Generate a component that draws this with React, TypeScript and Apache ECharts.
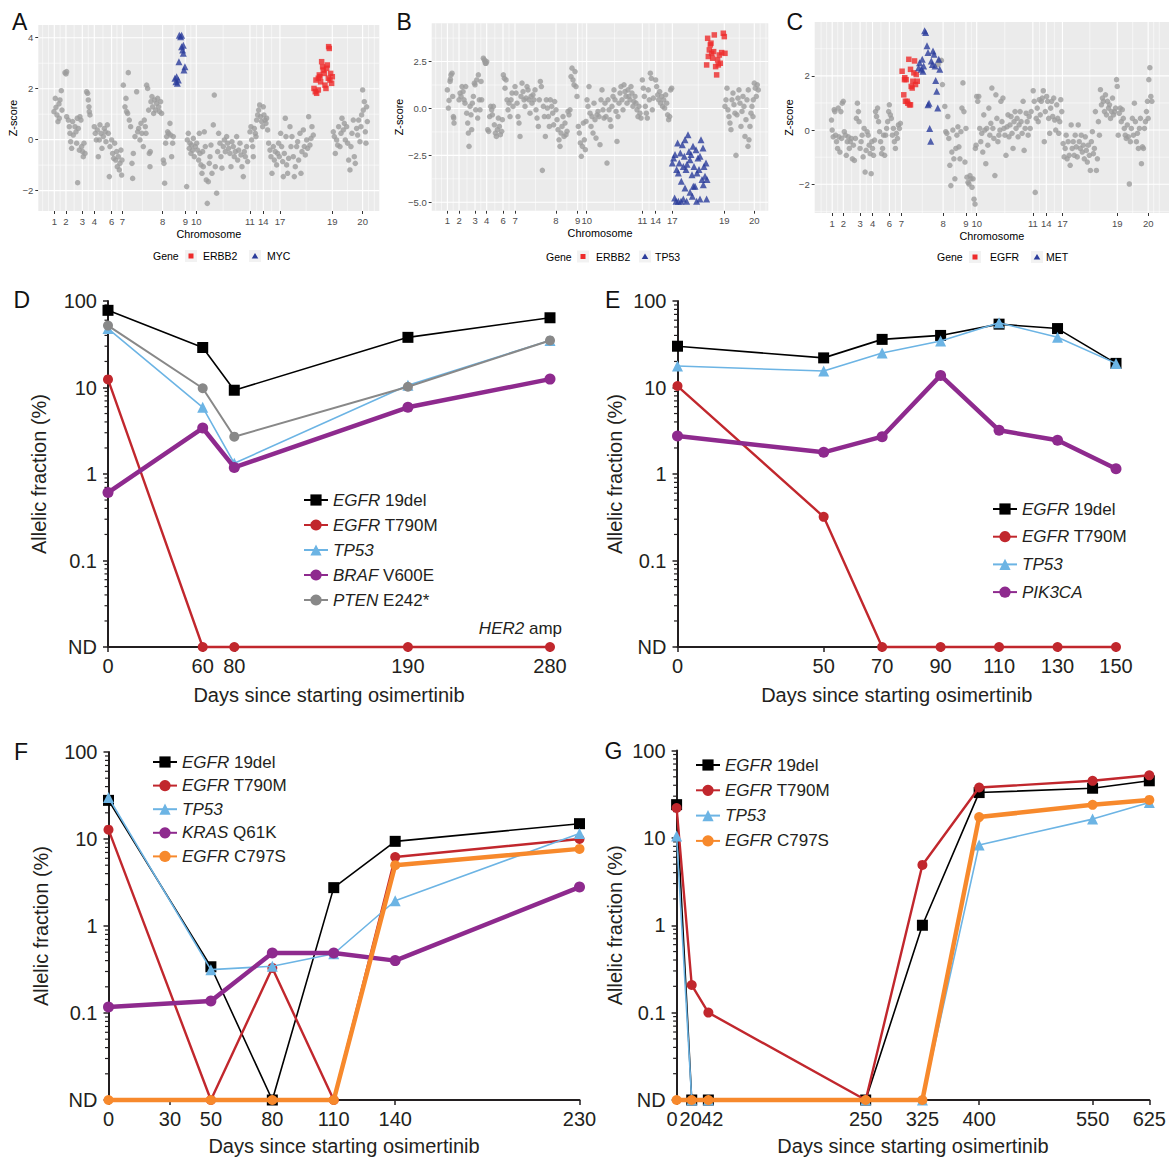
import React, { useEffect, useRef } from 'react';
import * as echarts from 'echarts';

const FONT = '"Liberation Sans", Arial, Helvetica, sans-serif';
const TXT = '#231F20';
const ND = 0.01;

// ---------- Panels A-C: copy-number Z-scores ----------
const chromLabels = ['1', '2', '3', '4', '6', '7', '8', '9', '10', '11', '14', '17', '19', '20'];
const chromPosA = [163, 198, 247, 283, 335, 367, 488, 556, 589, 750, 790, 840, 997, 1088];
const chromPosB = [187, 222, 270, 305, 354, 390, 513, 578, 605, 772, 812, 862, 1018, 1108];
const chromPosC = [170, 203, 253, 290, 340, 376, 500, 568, 600, 767, 807, 855, 1018, 1110];

const zTicksA = [-2, 0, 2, 4];
const zMinorA = [-1, 1, 3];
const zTicksB = [-5, -2.5, 0, 2.5];
const zMinorB = [-3.75, -1.25, 1.25, 3.75];
const zTicksC = [-2, 0, 2];
const zMinorC = [-3, -1, 1, 3];

const grayA = [
  [162, 1.1], [166, 1.62], [168, 1.27], [171, 0.97], [174, 0.71], [177, 1.4], [180, 1.56], [184, 1.92], [186, 1.16], [178, 0.84],
  [195, 2.63], [198, 2.58], [200, 2.67], [200, 0.9], [205, 0.77], [208, 0.51], [210, 0.25], [212, -0.08], [215, -0.34], [218, 0.71], [220, 0.18], [225, 0.51], [228, 0.31], [230, -0.14], [232, 0.84], [235, 0.44], [238, -0.41], [233, -1.69],
  [240, 0.9], [243, 0.77], [245, -0.27], [248, -0.47], [250, -0.67], [252, -0.14], [255, -0.54], [260, 1.88], [263, 1.82], [265, 1.56], [267, 1.29], [268, 1.1], [270, 0.97],
  [283, 0.51], [286, 0.25], [289, -0.01], [292, 0.38], [295, -0.67], [298, -0.01], [300, 0.58], [303, 0.25], [306, -0.34], [310, 0.12], [313, 0.44], [316, 0.31], [318, -0.08], [322, 0.58], [325, 0.25], [328, -1.45], [330, -0.27],
  [335, -0.01], [338, -0.54], [341, -0.73], [344, -0.14], [347, -0.8], [350, -0.47], [352, -1.06], [355, -0.67], [358, -1.19], [360, -0.93], [363, -0.41], [365, -1.39], [366, -0.8],
  [370, 2.14], [375, 1.29], [378, 1.62], [380, 1.1], [383, 1.03], [385, 2.63], [388, 0.77], [392, 0.51], [396, -0.93], [398, -1.52], [400, -0.54], [405, 0.12], [410, 1.88], [413, 0.31], [416, 0.44], [420, -0.01], [423, 0.64], [426, 0.25], [430, -0.27], [433, 0.77], [436, 0.51], [440, 2.14], [443, 2.01], [446, 1.16], [448, -0.54], [450, -1.06], [453, 1.49], [456, 1.69], [458, 1.29], [461, 1.03], [464, 1.56], [467, 1.16], [470, 1.42], [473, 1.62], [476, 1.29], [479, 1.1], [482, 1.49], [485, 1.03], [451, -0.47], [438, 0.25],
  [490, -0.8], [492, -0.93], [494, -1.71], [497, -0.14], [500, 0.12], [503, 0.31], [506, 0.25], [510, 0.64], [512, 0.18], [515, -0.67], [518, -0.14], [520, 0.12],
  [560, -1.84], [562, -0.01], [565, 0.25], [568, -0.34], [570, -0.14], [573, -0.54], [575, -0.21], [578, -0.41], [580, 0.05], [583, -0.67], [586, -0.27],
  [590, -0.14], [593, -0.41], [596, -0.8], [598, 0.25], [600, -0.54], [603, -0.99], [606, -1.32], [608, -0.47], [610, -1.06], [613, 0.31], [616, -0.27], [619, -1.58], [622, -2.5], [625, -1.65], [628, -0.93], [630, -0.67], [633, -0.21], [636, -1.32], [640, 0.58], [643, 1.75], [646, -1.06], [650, -2.1], [653, -0.47], [656, 0.25], [660, -0.14], [663, -0.67], [666, -1.12], [670, -0.27], [673, -0.01], [676, -0.47], [680, 0.12], [683, -0.14], [686, -0.34], [690, -0.54], [693, -1.06], [696, -0.08], [700, -0.27], [703, -0.67], [706, -0.47], [710, 0.12], [713, -0.8], [716, -0.41], [720, -0.14], [723, -0.6], [726, -1.06], [730, -1.45], [733, -0.47], [736, -0.67], [740, -0.27], [743, -0.86],
  [750, 0.31], [753, 0.51], [755, -0.01], [758, -0.27], [760, -0.67], [763, 0.44], [766, 0.25], [768, 0.12], [770, 0.77], [773, 0.97], [776, 1.16], [779, 1.36], [782, 0.9], [785, 0.71], [788, 0.51],
  [790, 1.29], [792, 0.97], [795, 0.77], [798, 0.64], [800, 0.84], [803, 0.38], [806, -0.14], [810, -0.41], [813, -0.67], [816, -1.32], [820, -0.27], [823, -0.8], [826, -0.47], [830, -0.99], [833, -0.54], [836, -0.14], [838, -0.67],
  [842, 0.25], [845, -0.27], [848, -0.86], [850, -1.45], [853, -0.54], [856, 0.84], [858, 0.12], [860, -0.99], [863, -1.32], [866, -0.73], [870, 0.51], [873, -0.27], [876, 0.12], [880, -0.67], [883, -1.45], [886, -1.06], [890, -0.27], [893, -0.08], [896, -0.8], [900, 0.25], [903, -1.32], [906, -0.47], [910, 0.38], [913, -0.27], [916, -0.6], [920, -0.01], [923, -0.34], [926, 0.9], [930, -0.21], [933, 0.05], [936, 0.51], [940, 0.18],
  [1000, 0.31], [1003, 0.12], [1006, -0.54], [1010, -0.01], [1013, -0.21], [1016, 0.51], [1020, -0.27], [1023, 0.25], [1026, 0.84], [1030, 0.38], [1033, 0.64], [1036, -0.01], [1040, 0.51], [1043, -0.14], [1046, -0.8], [1050, -1.19], [1053, -0.27], [1056, 0.25], [1060, 0.77], [1063, -0.67], [1066, -0.93], [1070, 0.44], [1073, 0.18], [1076, 0.77], [1080, -0.08], [1083, 0.51],
  [1088, 1.95], [1090, 1.16], [1093, 1.49], [1096, 0.31], [1098, -0.14], [1100, 1.29], [1102, 0.71], [1085, 0.97],
];
const mycA = [
  [525, 2.41], [528, 2.27], [532, 2.21], [530, 2.47], [538, 4.1], [542, 4.04], [545, 3.65], [548, 3.52], [550, 3.39], [537, 3.06], [555, 2.86], [552, 2.73], [535, 2.34], [545, 4.1], [550, 3.71],
];
const erbb2A = [
  [942, 2.01], [946, 1.88], [950, 1.82], [948, 2.34], [955, 2.41], [958, 2.54], [962, 2.27], [965, 3.06], [968, 2.86], [970, 2.73], [973, 2.6], [975, 2.14], [978, 2.01], [982, 2.93], [985, 2.41], [988, 3.58], [990, 2.34], [992, 2.6], [995, 2.21], [997, 2.47], [986, 3.65], [960, 2.47], [980, 2.8], [955, 1.95],
];

const grayB = [
  [187, 0.99], [190, 0.02], [192, 0.43], [195, 1.44], [198, 1.79], [201, 1.88], [203, 0.64], [205, -0.43], [207, -0.78], [196, 1.56], [206, -0.51],
  [222, 0.46], [225, 0.82], [228, 0.64], [231, 1.17], [234, 0.9], [237, 0.46], [240, 0.28], [242, 1.17], [245, -0.25], [248, -0.78], [250, -1.31], [252, -2.02], [255, 0.11], [258, -0.34], [260, -1.13], [262, 0.28], [265, 0.64], [268, 1.35],
  [270, 1.26], [272, -0.07], [275, 1.52], [278, -0.51], [280, 1.79], [283, 0.46], [285, -0.07], [288, 1.44], [290, 0.46], [295, 2.68], [298, 2.59], [300, 2.5], [303, 2.41], [305, 2.5], [301, 2.41],
  [308, -1.13], [311, -1.22], [314, -0.43], [317, 0.11], [320, -0.07], [322, -0.34], [325, 0.11], [328, -0.87], [331, -1.31], [334, -1.49], [337, -1.13], [340, -0.51], [343, -0.96], [346, -1.4], [350, -1.22], [352, -0.6],
  [355, 1.79], [358, 1.61], [360, 1.08], [363, 1.52], [366, 0.46], [369, -0.07], [372, 0.28], [375, -0.43], [378, 0.46], [381, 0.82], [384, 0.11],
  [390, 1.17], [393, 0.82], [396, 0.28], [399, -0.43], [402, -0.78], [405, -1.49], [408, 0.64], [411, 1.35], [414, 0.9], [417, 0.46], [420, 0.11], [423, 0.55], [426, 1.17], [429, 0.99], [432, 0.46], [435, -0.25], [438, 0.64], [441, 0.28], [444, 0.73], [447, 0.46], [450, 0.99], [453, -0.07], [456, -0.51], [460, -0.96], [463, 0.46], [466, 1.44], [469, 1.17], [472, -3.3], [475, 0.11], [478, -0.43], [481, -1.49], [484, 0.46], [487, 0.02], [490, -0.43], [493, -0.96], [496, 0.46], [500, 0.11], [503, -0.25], [506, -0.87], [509, 0.37],
  [513, -0.07], [516, -0.6], [519, -1.13], [522, -1.67], [525, -2.02], [528, -1.31], [531, -0.96], [534, -0.43], [537, -1.49], [540, -0.78], [543, -1.4], [546, -1.22], [549, -0.16], [552, -0.34], [555, -0.07], [558, 1.7], [561, 2.15], [564, 1.52], [567, 1.26], [570, 1.97], [573, 1.17], [576, 0.64],
  [580, -0.96], [583, -1.31], [586, -1.84], [589, -2.55], [592, -2.02], [595, -0.78], [598, -1.67], [601, -2.2], [603, -0.69],
  [606, 0.46], [609, 0.11], [612, 1.17], [615, -0.25], [618, -0.96], [621, -0.43], [624, -1.31], [627, 0.28], [630, -0.6], [633, -1.58], [636, -0.34], [639, -0.16], [642, -0.43], [645, -1.93], [648, 0.46], [651, 0.99], [654, -0.07], [657, -0.51], [660, 0.28], [663, -0.43], [666, -2.91], [669, 0.46], [672, -0.07], [675, -0.6], [678, -0.96], [681, 0.11], [684, 0.64], [687, 0.99], [690, 0.46], [693, -0.16], [696, -1.76], [699, -0.43], [702, 0.28], [705, 0.82], [708, 1.17], [711, 0.46], [714, -0.07], [717, 1.26], [720, 0.9], [723, 0.64], [726, 0.28], [729, 0.99], [732, 0.64], [735, 0.46], [738, 1.17], [741, 0.82], [744, 0.11], [747, 0.37], [750, 0.64], [753, 0.28], [756, -0.07], [759, -0.43], [762, 0.11], [765, -0.25], [768, -0.51],
  [772, 1.52], [775, 1.08], [778, 0.64], [781, 0.11], [784, -0.25], [787, -0.51], [790, 0.99], [793, 0.46], [796, 1.88], [799, 1.61], [802, -0.07], [805, 0.55],
  [812, 1.52], [815, 1.17], [818, 0.73], [821, 0.46], [824, 0.9], [827, 0.28], [830, 0.64], [833, 0.11], [836, 0.46], [839, 0.02], [842, 0.73], [845, 0.28], [848, -0.34], [851, -0.6], [854, -0.43], [857, 0.99], [860, 1.08],
  [1020, 0.11], [1023, 0.46], [1026, 1.08], [1029, -0.07], [1032, -0.43], [1035, -0.78], [1038, -1.13], [1041, 0.46], [1044, 0.82], [1047, 0.2], [1050, -0.25], [1053, -2.5], [1056, -0.34], [1059, 0.55], [1062, 0.99], [1065, 0.28], [1068, -0.96], [1071, -0.16], [1074, 0.64], [1077, 0.11], [1080, -1.49], [1083, -0.6], [1086, 0.46], [1089, -2.02], [1092, -1.67], [1095, -0.96], [1098, -0.25], [1101, 0.11], [1104, -0.43], [1090, 0.99],
  [1108, 1.35], [1111, 1.08], [1114, 0.64], [1117, 1.26], [1120, 0.99], [1105, 0.46],
];
const tp53B = [
  [862, -2.91], [866, -2.64], [870, -2.46], [875, -3.26], [878, -1.84], [880, -3.44], [883, -2.91], [886, -2.38], [889, -3.88], [892, -1.93], [895, -3.09], [898, -2.55], [900, -1.67], [903, -3.26], [906, -2.98], [909, -1.4], [912, -2.29], [915, -2.73], [918, -2.46], [921, -3.53], [924, -2.02], [927, -3.09], [930, -4.15], [933, -2.2], [936, -3.44], [939, -2.64], [942, -3.26], [945, -2.55], [948, -1.67], [951, -3.79], [954, -2.11], [957, -3.09], [960, -3.62], [963, -2.91], [966, -3.79],
  [869, -4.77], [873, -4.95], [880, -4.95], [888, -4.95], [895, -4.82], [905, -4.95], [915, -4.47], [922, -4.68], [935, -4.95], [945, -4.82], [965, -4.82], [955, -4.06], [925, -4.15], [900, -4.24],
];
const erbb2B = [
  [965, 2.32], [970, 2.77], [973, 3.12], [976, 3.39], [980, 2.94], [983, 2.68], [986, 3.03], [988, 3.92], [992, 2.23], [995, 1.79], [998, 2.59], [1000, 2.32], [1003, 2.85], [1006, 2.41], [1010, 2.98], [1015, 4.01], [1018, 3.83], [1020, 2.94], [968, 3.74], [978, 3.48],
];

const grayC = [
  [168, 0.37], [170, 0], [173, -0.25], [176, 0.75], [178, 0.68], [180, -0.19], [183, -0.43], [186, -0.68], [188, 0.81], [190, -0.25], [193, -0.81], [196, 0.68], [198, -0.31], [200, 0.99],
  [203, 1.06], [206, -0.06], [209, -0.19], [212, -0.93], [215, -0.43], [218, -0.25], [221, -0.68], [224, -0.43], [227, -0.31], [230, -1.06], [233, -0.56], [236, -1.12], [239, -0.31], [242, 0.43], [245, 0.99], [248, 0.68], [250, 0.31],
  [253, -0.68], [256, -0.43], [259, -0.19], [262, -0.99], [265, 0.06], [268, -1.55], [271, -0.75], [274, -0.06], [277, -0.19], [280, -0.56], [283, -0.87], [286, -1.61], [288, -0.43],
  [290, -0.68], [293, -0.93], [296, -0.37], [299, 0.68], [302, 0.5], [305, 0.81], [308, 0.31], [311, -0.06], [314, -0.43], [317, -0.87], [320, -0.68], [323, -0.19], [326, -0.93], [329, -0.19], [332, 0.06], [335, 0.31], [338, 0.68],
  [340, 0.93], [343, 0.56], [346, 0.43], [349, -0.19], [352, 0.06], [355, -0.43], [358, -0.68], [361, -0.12], [364, -0.31], [367, 0.19], [370, 0.06], [373, 0.25],
  [490, 2.55], [495, 2.57], [498, 1.68], [485, 2.42],
  [505, 0.87], [508, -0.06], [511, -0.12], [514, 0.5], [517, -0.31], [520, -1.3], [523, -2.05], [526, -0.81], [529, 0], [532, -1.06], [535, -1.8], [538, -0.68], [541, -0.19], [544, 0.12], [547, -0.62], [550, -1.06], [553, -0.06], [556, 0.81], [559, 1.74], [562, 0.68], [565, -1.18],
  [568, 0.06], [571, -1.74], [574, -1.93], [577, -1.99], [580, -1.68], [583, -1.8], [586, -2.11], [589, -1.8], [592, -2.55], [595, -2.73], [598, -0.56], [596, -0.68],
  [600, 1.24], [603, 1.06], [606, 1.24], [609, 0.06], [612, -0.43], [615, -0.12], [618, -0.81], [621, 0.56], [624, 0], [627, -1.24], [630, 0.06], [633, -0.56], [636, 0.81], [639, -0.19], [642, 0.25], [645, 1.55], [648, 0.06], [651, -0.31], [654, -1.68], [657, 1.3], [660, 0.43], [663, -0.43], [666, -0.19], [669, 0], [672, 1.06], [675, 0.31], [678, 1.18], [681, 0.06], [684, -0.19], [687, -0.93], [690, 0.12], [693, 0.56], [696, -0.25], [699, 0.19], [702, 0.5], [705, -0.12], [708, -0.68], [711, 0.31], [714, 0.68], [717, 0.06], [720, 0.43], [723, -0.25], [726, 0.19], [729, 0.68], [732, 0.31], [735, -0.12], [738, 1.06], [741, -0.75], [744, 0.06], [747, 0.62], [750, 0.31], [753, -0.19], [756, 0.5], [759, 0.06], [762, 0.68],
  [768, 1.45], [771, 1.06], [774, -2.3], [777, 0.43], [780, 0.81], [783, 0.31], [786, 1.12], [789, 0.56], [792, 1.06], [795, 1.18], [798, 1.45], [801, -0.43], [804, 0.68],
  [808, 1.24], [811, 1.06], [814, 0.43], [817, -0.12], [820, 0.81], [823, 1.06], [826, 0.5], [829, 1.18], [832, 0.37], [835, 0], [838, 0.93], [841, 0.43], [844, -0.12], [847, 0.31], [850, 1.12], [853, 0.68],
  [857, -0.5], [860, -0.99], [863, -0.68], [866, -0.19], [869, -1.06], [872, -0.43], [875, -0.93], [878, -1.3], [881, 0.19], [884, -0.68], [887, -0.43], [890, -0.93], [893, -0.19], [896, -0.62], [899, -0.99], [902, 0.19], [905, -0.43], [908, -0.68], [911, -0.19], [914, -0.81], [917, -0.56], [920, -1.06], [923, -0.25], [926, -0.75], [929, -1.18], [932, -0.56], [935, -0.93], [938, -1.49], [941, -0.43], [944, -0.06], [947, -0.87], [950, -0.68], [953, 0.68], [956, -1.49], [959, -1.06], [962, 0.31], [965, -0.19], [968, 1.49], [971, 0.93], [974, 1.18], [977, 1.06], [980, 0.68], [983, 1.3], [986, 0.56], [989, 1.06], [992, 0.81], [995, 0.93], [998, 0.43], [1001, 0.68], [1004, 1.18], [1007, 0.56], [1010, 0.68], [1013, 0.81], [1016, 1.86],
  [1018, 1.61], [1021, -0.19], [1024, 0.62], [1027, 0.81], [1030, 0.31], [1033, 0.75], [1036, 0.43], [1039, 0.06], [1042, -0.19], [1045, -0.31], [1048, 0.19], [1051, -0.25], [1054, -1.99], [1057, -0.43], [1060, 0.06], [1063, 0.43], [1066, -0.19], [1069, 0.99], [1072, 0.31], [1075, -0.43], [1078, -0.12], [1081, -0.68], [1084, 0.06], [1087, 0.43], [1090, -1.24], [1093, -0.62], [1096, -0.68], [1099, 0.06], [1102, 0.31], [1105, 0.68],
  [1108, 1.06], [1112, 1.86], [1115, 2.3], [1118, 1.24], [1121, 1.06], [1110, 0.43],
];
const egfrC = [
  [378, 2.17], [383, 1.3], [386, 1.93], [390, 1.86], [393, 1.06], [398, 2.61], [400, 0.93], [403, 2.24], [405, 1.61], [408, 1.55], [410, 1.8], [413, 2.11], [415, 2.55], [418, 1.68], [420, 2.05], [423, 1.8], [395, 0.99], [385, 1.86], [403, 0.93], [388, 1.06],
];
const metC = [
  [430, 2.48], [435, 2.24], [438, 2.61], [442, 2.36], [445, 3.66], [448, 3.6], [452, 3.11], [455, 2.86], [458, 0.99], [460, 0.06], [463, -0.41], [465, 2.55], [468, 2.42], [470, 2.92], [473, 2.8], [476, 2.36], [478, 1.83], [481, 1.43], [484, 0.81], [487, 2.61], [490, 2.24], [427, 2.3], [440, 2.17], [455, 0.93],
];

// ---------- Panels D-G: allelic fractions ----------
const logMinorTicks = [0.02, 0.03, 0.04, 0.05, 0.06, 0.07, 0.08, 0.09, 0.2, 0.3, 0.4, 0.5, 0.6, 0.7, 0.8, 0.9, 2, 3, 4, 5, 6, 7, 8, 9, 20, 30, 40, 50, 60, 70, 80, 90];

const daysD = [0, 60, 80, 190, 280];
const egfr19delD = [78, 29, 9.3, 38, 64];
const t790mD = [12.4, ND, ND, ND, ND];
const tp53D = [48, 5.9, 1.33, 10.6, 35];
const brafD = [0.61, 3.4, 1.19, 5.9, 12.5];
const ptenD = [52, 9.8, 2.7, 10.2, 35];

const daysE = [0, 50, 70, 90, 110, 130, 150];
const egfr19delE = [30, 22, 36, 40, 54, 48, 19];
const t790mE = [10.4, 0.32, ND, ND, ND, ND, ND];
const tp53E = [17.7, 15.5, 25, 34.5, 56, 38, 19];
const pik3caE = [2.75, 1.78, 2.7, 13.8, 3.2, 2.45, 1.15];

const daysF = [0, 50, 80, 110, 140, 230];
const ticksF = [0, 30, 50, 80, 110, 140, 230];
const egfr19delF = [27.8, 0.34, ND, 2.76, 9.4, 15];
const t790mF = [12.8, ND, 0.33, ND, 6.2, 10];
const tp53F = [30, 0.315, 0.345, 0.48, 1.95, 11.6];
const krasF = [0.117, 0.137, 0.49, 0.49, 0.4, 2.8];
const c797sF = [ND, ND, ND, ND, 5.0, 7.7];

const daysG = [0, 20, 42, 250, 325, 400, 550, 625];
const egfr19delG = [24, ND, ND, ND, 1.0, 33, 37, 45];
const t790mG = [22, 0.207, 0.1, ND, 4.9, 37.7, 45, 52];
const tp53G = [10.5, ND, ND, ND, ND, 8.3, 16.4, 25.4];
const c797sG = [ND, ND, ND, ND, ND, 17.3, 23.9, 27.2];

const STY: Record<string, any> = {
  del19: { symbol: 'rect', size: 11, color: '#000000', width: 1.6 },
  t790m: { symbol: 'circle', size: 10, color: '#C1272D', width: 2.4 },
  tp53: { symbol: 'triangle', size: 11, color: '#6CB4E4', width: 1.6 },
  purple: { symbol: 'circle', size: 11, color: '#8E2A8E', width: 4.5 },
  pten: { symbol: 'circle', size: 10, color: '#888888', width: 2 },
  c797s: { symbol: 'circle', size: 10, color: '#F7892C', width: 4.5 },
};

function minusFmt(v: number, digits: number) {
  const s = Math.abs(v).toFixed(digits);
  return v < 0 ? '\u2212' + s : s;
}

function gridLinesFor(chromPos: number[], xMin: number, xMax: number, yMajor: number[], yMinor: number[]) {
  const out: number[][] = [];
  const bd = chromPos[1] - chromPos[0];
  const ext = [chromPos[0] - bd, ...chromPos, chromPos[chromPos.length - 1] + bd];
  for (let i = 0; i < ext.length - 1; i++) {
    const m = (ext[i] + ext[i + 1]) / 2;
    if (m > xMin && m < xMax) out.push([m, 0, 0.55]);
  }
  if (ext[0] > xMin) out.push([ext[0], 0, 0.55]);
  if (ext[ext.length - 1] < xMax) out.push([ext[ext.length - 1], 0, 0.55]);
  chromPos.forEach((p) => out.push([p, 0, 1.1]));
  yMinor.forEach((v) => out.push([v, 1, 0.55]));
  yMajor.forEach((v) => out.push([v, 1, 1.1]));
  return out;
}

function legendFmt(name: string) {
  const i = name.indexOf(' ');
  if (i < 0) return '{i|' + name + '}';
  return '{i|' + name.slice(0, i) + '}' + name.slice(i);
}

function buildOption() {
  const grid: any[] = [];
  const xAxis: any[] = [];
  const yAxis: any[] = [];
  const series: any[] = [];
  const legend: any[] = [];
  const graphic: any[] = [];

  const scatterPanels = [
    { left: 38.3, top: 25, width: 341, height: 186, xMin: 115, xMax: 1138, yMin: -2.8, yMax: 4.5, chromPos: chromPosA, yMajor: zTicksA, yMinor: zMinorA, digits: 0, yGap: 15,
      gray: grayA, hi: [{ data: erbb2A, symbol: 'rect', color: '#EE2B2B', size: 5.5, name: 'A ERBB2' }, { data: mycA, symbol: 'triangle', color: '#2B3C9B', size: 7, name: 'A MYC' }] },
    { left: 431.7, top: 23.3, width: 336.6, height: 187.4, xMin: 140, xMax: 1150, yMin: -5.45, yMax: 4.54, chromPos: chromPosB, yMajor: zTicksB, yMinor: zMinorB, digits: 1, yGap: 24,
      gray: grayB, hi: [{ data: erbb2B, symbol: 'rect', color: '#EE2B2B', size: 5.5, name: 'B ERBB2' }, { data: tp53B, symbol: 'triangle', color: '#2B3C9B', size: 7, name: 'B TP53' }] },
    { left: 814.7, top: 21.9, width: 354.3, height: 191.1, xMin: 118, xMax: 1172, yMin: -3.06, yMax: 3.99, chromPos: chromPosC, yMajor: zTicksC, yMinor: zMinorC, digits: 0, yGap: 17,
      gray: grayC, hi: [{ data: egfrC, symbol: 'rect', color: '#EE2B2B', size: 5.5, name: 'C EGFR' }, { data: metC, symbol: 'triangle', color: '#2B3C9B', size: 7, name: 'C MET' }] },
  ];

  scatterPanels.forEach((p, gi) => {
    grid.push({ left: p.left, top: p.top, width: p.width, height: p.height, show: true, backgroundColor: '#EBEBEB', borderWidth: 0, containLabel: false });
    const chromPos = p.chromPos;
    xAxis.push({
      type: 'value', gridIndex: gi, min: p.xMin, max: p.xMax,
      axisLine: { show: false, onZero: false },
      axisTick: { show: true, customValues: chromPos, length: 3, lineStyle: { color: '#333333', width: 1 } },
      axisLabel: {
        show: true, customValues: chromPos, fontSize: 9.5, color: '#4D4D4D', margin: 5, fontFamily: FONT,
        formatter: (v: number) => {
          let best = 0;
          for (let k = 1; k < chromPos.length; k++) if (Math.abs(chromPos[k] - v) < Math.abs(chromPos[best] - v)) best = k;
          return chromLabels[best];
        },
      },
      splitLine: { show: false },
      name: 'Chromosome', nameLocation: 'middle', nameGap: 17,
      nameTextStyle: { fontSize: 10.8, color: '#000', fontFamily: FONT },
    });
    yAxis.push({
      type: 'value', gridIndex: gi, min: p.yMin, max: p.yMax,
      axisLine: { show: false, onZero: false },
      axisTick: { show: true, customValues: p.yMajor, length: 3, lineStyle: { color: '#333333', width: 1 } },
      axisLabel: { show: true, customValues: p.yMajor, fontSize: 9.5, color: '#4D4D4D', margin: 5, fontFamily: FONT, formatter: (v: number) => minusFmt(v, p.digits) },
      splitLine: { show: false },
      name: 'Z-score', nameLocation: 'middle', nameGap: p.yGap, nameRotate: 90,
      nameTextStyle: { fontSize: 10.8, color: '#000', fontFamily: FONT },
    });
    const xMin = p.xMin, yMin = p.yMin;
    series.push({
      type: 'custom', name: 'grid' + gi, xAxisIndex: gi, yAxisIndex: gi, z: 1, silent: true,
      data: gridLinesFor(chromPos, p.xMin, p.xMax, p.yMajor, p.yMinor),
      renderItem: (params: any, api: any) => {
        const v = api.value(0), o = api.value(1), w = api.value(2);
        const cs = params.coordSys;
        if (o === 0) {
          const x = api.coord([v, yMin])[0];
          return { type: 'line', shape: { x1: x, y1: cs.y, x2: x, y2: cs.y + cs.height }, style: { stroke: '#FFFFFF', lineWidth: w } };
        }
        const y = api.coord([xMin, v])[1];
        return { type: 'line', shape: { x1: cs.x, y1: y, x2: cs.x + cs.width, y2: y }, style: { stroke: '#FFFFFF', lineWidth: w } };
      },
    });
    series.push({
      type: 'scatter', name: 'gray' + gi, xAxisIndex: gi, yAxisIndex: gi, z: 2, silent: true,
      data: p.gray, symbol: 'circle', symbolSize: 5.5, itemStyle: { color: '#9C9C9C' },
    });
    p.hi.forEach((h) => {
      series.push({
        type: 'scatter', name: h.name, xAxisIndex: gi, yAxisIndex: gi, z: 3, silent: true,
        data: h.data, symbol: h.symbol, symbolSize: h.size, itemStyle: { color: h.color },
      });
    });
  });

  // ggplot-style legends for A-C
  const ggLegends = [
    { gene: 153, sq: 191, t1: 203, l1: 'ERBB2', tri: 255, t2: 267, l2: 'MYC', y: 256 },
    { gene: 546, sq: 583, t1: 596, l1: 'ERBB2', tri: 645, t2: 655, l2: 'TP53', y: 256.5 },
    { gene: 937, sq: 975, t1: 990, l1: 'EGFR', tri: 1037, t2: 1046, l2: 'MET', y: 257 },
  ];
  ggLegends.forEach((g) => {
    const ts = (text: string, x: number) => ({ type: 'text', x, y: g.y, silent: true, style: { text, fontSize: 10.5, fontFamily: FONT, fill: '#000', align: 'left', verticalAlign: 'middle' } });
    graphic.push(ts('Gene', g.gene));
    graphic.push({ type: 'rect', silent: true, shape: { x: g.sq - 6, y: g.y - 6, width: 12, height: 12 }, style: { fill: '#F2F2F2' } });
    graphic.push({ type: 'rect', silent: true, shape: { x: g.sq - 2.5, y: g.y - 2.5, width: 5, height: 5 }, style: { fill: '#EE2B2B' } });
    graphic.push(ts(g.l1, g.t1));
    graphic.push({ type: 'rect', silent: true, shape: { x: g.tri - 6, y: g.y - 6, width: 12, height: 12 }, style: { fill: '#F2F2F2' } });
    graphic.push({ type: 'polygon', silent: true, shape: { points: [[g.tri, g.y - 3], [g.tri + 3.3, g.y + 2.5], [g.tri - 3.3, g.y + 2.5]] }, style: { fill: '#2B3C9B' } });
    graphic.push(ts(g.l2, g.t2));
  });

  // shifted labels for the crowded start of panel G's day axis
  const crowdedG: Record<number, string> = { 0: '{l|0}', 20: '{m|20}', 42: '{r|42}' };
  const labelRich = {
    l: { fontSize: 20, fontFamily: FONT, color: TXT, padding: [0, 9, 0, 0] },
    m: { fontSize: 20, fontFamily: FONT, color: TXT, padding: [0, 2, 0, 0] },
    r: { fontSize: 20, fontFamily: FONT, color: TXT, padding: [0, 0, 0, 8] },
  };

  // line panels
  const linePanels = [
    { left: 108, top: 301, width: 442, height: 346, xMax: 280, ticks: daysD, nameGap: 59, xNameGap: 38, crowded: null as any,
      lines: [
        { name: 'EGFR 19del', days: daysD, vals: egfr19delD, s: STY.del19 },
        { name: 'EGFR T790M', days: daysD, vals: t790mD, s: STY.t790m },
        { name: 'TP53', days: daysD, vals: tp53D, s: STY.tp53 },
        { name: 'BRAF V600E', days: daysD, vals: brafD, s: STY.purple },
        { name: 'PTEN E242*', days: daysD, vals: ptenD, s: STY.pten },
      ],
      legend: { left: 303, top: 490, gap: 5 } },
    { left: 677.5, top: 301, width: 438.5, height: 346, xMax: 150, ticks: daysE, nameGap: 53, xNameGap: 38, crowded: null as any,
      lines: [
        { name: 'EGFR 19del', days: daysE, vals: egfr19delE, s: STY.del19 },
        { name: 'EGFR T790M', days: daysE, vals: t790mE, s: STY.t790m },
        { name: 'TP53', days: daysE, vals: tp53E, s: STY.tp53 },
        { name: 'PIK3CA', days: daysE, vals: pik3caE, s: STY.purple },
      ],
      legend: { left: 992, top: 499, gap: 7.7 } },
    { left: 108.5, top: 752, width: 471, height: 348, xMax: 230, ticks: ticksF, nameGap: 58, xNameGap: 36, crowded: null as any,
      lines: [
        { name: 'EGFR 19del', days: daysF, vals: egfr19delF, s: STY.del19 },
        { name: 'EGFR T790M', days: daysF, vals: t790mF, s: STY.t790m },
        { name: 'TP53', days: daysF, vals: tp53F, s: STY.tp53 },
        { name: 'KRAS Q61K', days: daysF, vals: krasF, s: STY.purple },
        { name: 'EGFR C797S', days: daysF, vals: c797sF, s: STY.c797s },
      ],
      legend: { left: 152, top: 752, gap: 3.6 } },
    { left: 676.6, top: 750.5, width: 475, height: 349.5, xMax: 625, ticks: daysG, nameGap: 52, xNameGap: 36, crowded: crowdedG,
      lines: [
        { name: 'EGFR 19del', days: daysG, vals: egfr19delG, s: STY.del19 },
        { name: 'EGFR T790M', days: daysG, vals: t790mG, s: STY.t790m },
        { name: 'TP53', days: daysG, vals: tp53G, s: STY.tp53 },
        { name: 'EGFR C797S', days: daysG, vals: c797sG, s: STY.c797s },
      ],
      legend: { left: 695, top: 755, gap: 5.3 } },
  ];

  linePanels.forEach((p, k) => {
    const gi = 3 + k;
    const crowded = p.crowded;
    grid.push({ left: p.left, top: p.top, width: p.width, height: p.height, show: false, containLabel: false });
    xAxis.push({
      type: 'value', gridIndex: gi, min: 0, max: p.xMax,
      axisLine: { show: true, onZero: false, lineStyle: { color: TXT, width: 2 } },
      axisTick: { show: true, customValues: p.ticks, length: 5, lineStyle: { color: TXT, width: 1.5 } },
      axisLabel: {
        show: true, customValues: p.ticks, fontSize: 20, color: TXT, margin: 9, fontFamily: FONT,
        showMinLabel: true, showMaxLabel: true, hideOverlap: false,
        formatter: (v: number) => (crowded && crowded[v] !== undefined ? crowded[v] : String(v)),
        rich: labelRich,
      },
      splitLine: { show: false },
      name: 'Days since starting osimertinib', nameLocation: 'middle', nameGap: p.xNameGap,
      nameTextStyle: { fontSize: 20, color: TXT, fontFamily: FONT },
    });
    yAxis.push({
      type: 'log', logBase: 10, gridIndex: gi, min: ND, max: 100,
      axisLine: { show: true, onZero: false, lineStyle: { color: TXT, width: 2 } },
      axisTick: { show: true, length: 5, lineStyle: { color: TXT, width: 1.5 } },
      axisLabel: {
        show: true, fontSize: 20, color: TXT, margin: 11, fontFamily: FONT,
        formatter: (v: number) => {
          const e = Math.round(Math.log10(v));
          if (e <= -2) return 'ND';
          if (e === -1) return '0.1';
          return String(Math.round(Math.pow(10, e)));
        },
      },
      splitLine: { show: false },
      name: 'Allelic fraction (%)', nameLocation: 'middle', nameGap: p.nameGap, nameRotate: 90,
      nameTextStyle: { fontSize: 20, color: TXT, fontFamily: FONT },
    });
    series.push({
      type: 'custom', name: 'minor' + gi, xAxisIndex: gi, yAxisIndex: gi, z: 1, silent: true,
      data: logMinorTicks.map((v) => [0, v]),
      renderItem: (params: any, api: any) => {
        const pt = api.coord([api.value(0), api.value(1)]);
        return { type: 'line', shape: { x1: pt[0] - 3.5, y1: pt[1], x2: pt[0], y2: pt[1] }, style: { stroke: TXT, lineWidth: 1.2 } };
      },
    });
    p.lines.forEach((l, j) => {
      series.push({
        type: 'line', name: l.name, xAxisIndex: gi, yAxisIndex: gi, z: 3 + j * 0.01, clip: false,
        data: l.days.map((d, i) => [d, l.vals[i]]),
        symbol: l.s.symbol, symbolSize: l.s.size, showSymbol: true,
        lineStyle: { color: l.s.color, width: l.s.width }, itemStyle: { color: l.s.color },
        emphasis: { disabled: true },
      });
    });
    legend.push({
      data: p.lines.map((l) => l.name), orient: 'vertical', left: p.legend.left, top: p.legend.top,
      padding: 0, itemGap: p.legend.gap, itemWidth: 24, itemHeight: 14, selectedMode: false,
      formatter: legendFmt,
      textStyle: {
        fontSize: 17, fontFamily: FONT, color: TXT, lineHeight: 20,
        rich: { i: { fontStyle: 'italic', fontSize: 17, fontFamily: FONT, color: TXT, lineHeight: 20 } },
      },
    });
  });

  // HER2 amp annotation (panel D)
  graphic.push({
    type: 'text', x: 562, y: 628, silent: true,
    style: { text: '{i|HER2} amp', align: 'right', verticalAlign: 'middle', fontSize: 17, fontFamily: FONT, fill: TXT,
      rich: { i: { fontStyle: 'italic', fontSize: 17, fontFamily: FONT, fill: TXT } } },
  });

  // panel letters
  const letters = [
    ['A', 12, 21.5], ['B', 396.5, 21.5], ['C', 786.5, 21.8], ['D', 13.5, 299.7], ['E', 605, 300], ['F', 14, 751.5], ['G', 604.5, 750.5],
  ];
  letters.forEach(([t, x, y]) => {
    graphic.push({ type: 'text', x, y, silent: true, style: { text: t, fontSize: 23, fontFamily: FONT, fill: '#111', align: 'left', verticalAlign: 'middle' } });
  });

  return { animation: false, backgroundColor: '#FFFFFF', grid, xAxis, yAxis, series, legend, graphic };
}

export default function App() {
  const ref = useRef<HTMLDivElement>(null);
  useEffect(() => {
    document.body.style.margin = '0';
    const chart = echarts.init(ref.current as HTMLDivElement, null, { renderer: 'svg' });
    chart.setOption(buildOption() as any);
    return () => chart.dispose();
  }, []);
  return <div ref={ref} style={{ width: 1169, height: 1159 }} />;
}
